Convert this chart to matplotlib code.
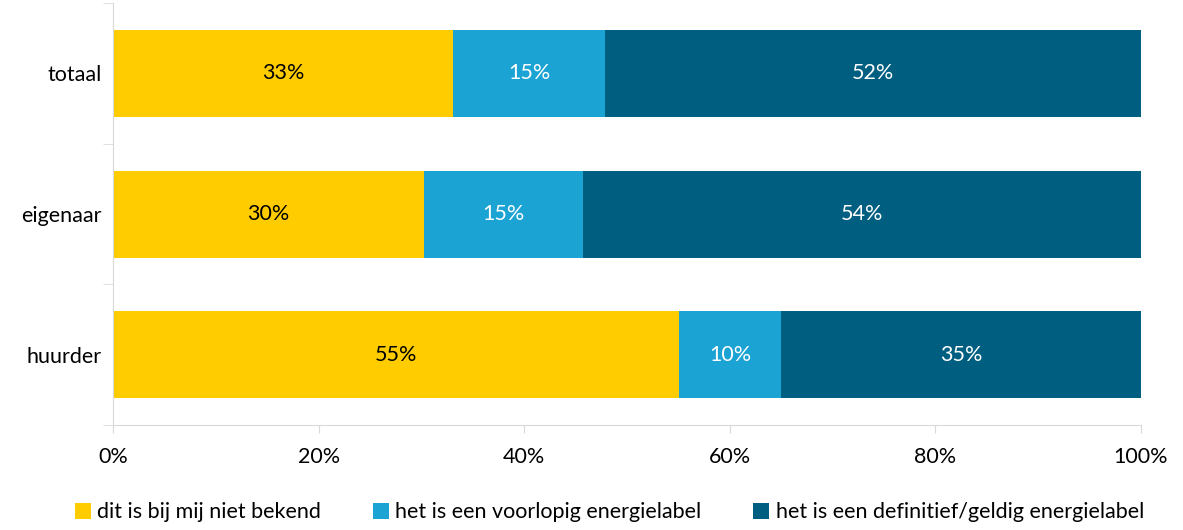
import numpy as np
import matplotlib.pyplot as plt
from matplotlib.patches import Patch

plt.rcParams['font.family'] = ['Lato', 'DejaVu Sans']

categories = ['totaal', 'eigenaar', 'huurder']
series_names = ['dit is bij mij niet bekend',
                'het is een voorlopig energielabel',
                'het is een definitief/geldig energielabel']
values = [
    [33.1, 30.3, 55.1],
    [14.8, 15.4, 9.9],
    [52.1, 54.3, 35.0],
]
labels = [
    ['33%', '30%', '55%'],
    ['15%', '15%', '10%'],
    ['52%', '54%', '35%'],
]
colors = ['#FFCC00', '#1BA3D4', '#005F80']
text_colors = ['black', 'white', 'white']

fig = plt.figure(figsize=(11.83, 5.30), dpi=100)
ax = fig.add_axes([0.0955, 0.198, 0.869, 0.796])

y = np.arange(len(categories))
left = np.zeros(len(categories))
for vals, labs, col, tc in zip(values, labels, colors, text_colors):
    vals = np.array(vals)
    ax.barh(y, vals, left=left, height=0.62, color=col)
    for yi, l, v, t in zip(y, left, vals, labs):
        ax.text(l + v / 2, yi, t, ha='center', va='center', color=tc, fontsize=15.5)
    left = left + vals

ax.set_ylim(2.5, -0.5)
ax.set_xlim(0, 100)
ax.set_xticks(np.arange(0, 101, 20))
ax.set_xticklabels(['%d%%' % v for v in range(0, 101, 20)], fontsize=15.5)
ax.set_yticks(y)
ax.set_yticklabels(categories, fontsize=15.5)
ax.set_yticks([-0.5, 0.5, 1.5, 2.5], minor=True)
ax.tick_params(axis='y', which='major', length=0, pad=8)
ax.tick_params(axis='y', which='minor', length=7, color='#D9D9D9')
ax.tick_params(axis='x', length=6, color='#D9D9D9', pad=10)

for s in ['top', 'right']:
    ax.spines[s].set_visible(False)
for s in ['left', 'bottom']:
    ax.spines[s].set_color('#D9D9D9')

handles = [Patch(facecolor=c, label=n) for c, n in zip(colors, series_names)]
fig.legend(handles=handles, loc='lower center', bbox_to_anchor=(0.515, -0.022), ncol=3,
           frameon=False, fontsize=15.5, handlelength=0.75, handleheight=0.75,
           handletextpad=0.3, columnspacing=2.4)

fig.savefig('out.png', dpi=100)
